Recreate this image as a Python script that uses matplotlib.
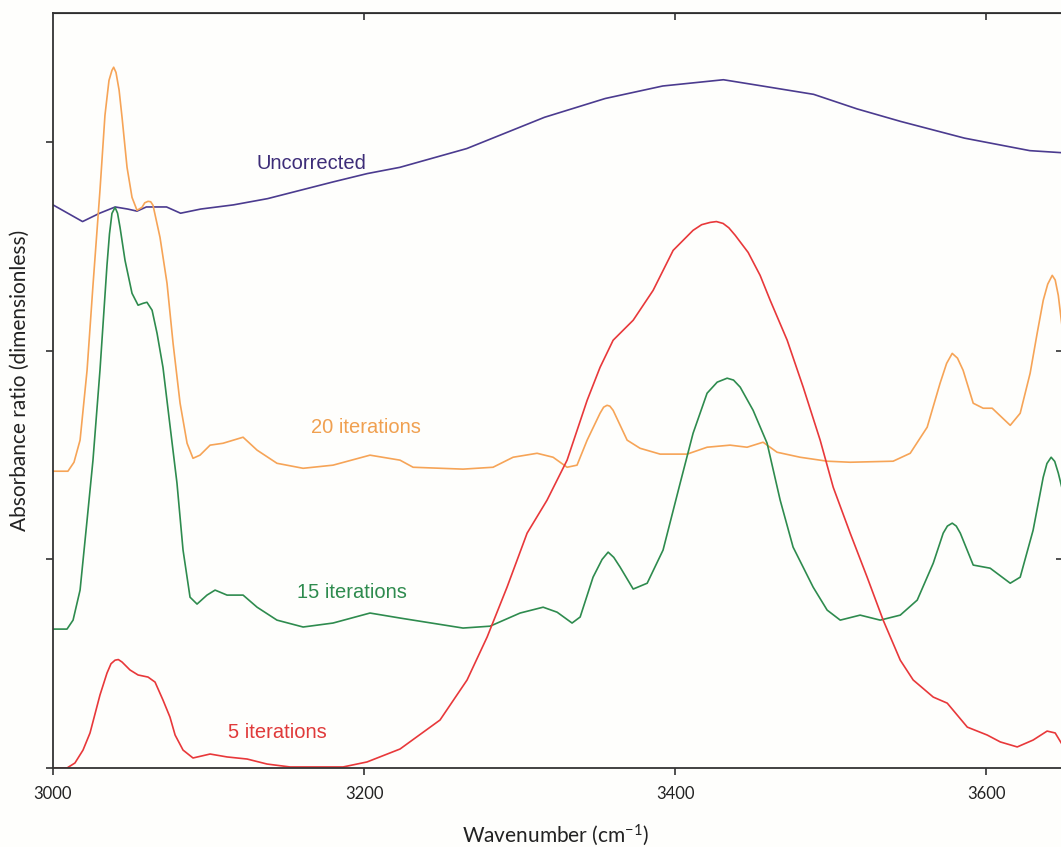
import numpy as np
import matplotlib
matplotlib.use("Agg")
import matplotlib.pyplot as plt

# absorbance ratio spectra, wavenumber in cm^-1

wn_raw = [3000, 3019, 3030, 3040, 3048, 3054, 3060, 3073, 3082, 3095, 3116, 3138,
          3159, 3180, 3202, 3223, 3266, 3316, 3355, 3392, 3431, 3456, 3489, 3517,
          3545, 3586, 3628, 3649]
abs_raw = [2.70, 2.62, 2.66, 2.69, 2.68, 2.67, 2.69, 2.69, 2.66, 2.68, 2.70, 2.73,
           2.77, 2.81, 2.85, 2.88, 2.97, 3.12, 3.21, 3.27, 3.30, 3.27, 3.23, 3.16,
           3.10, 3.02, 2.96, 2.95]

wn_20 = [3000, 3009.6, 3013.5, 3017.4, 3021.9, 3025.7, 3030.2, 3033.4, 3034.8, 3036,
         3037.9, 3039, 3040.5, 3042.5, 3044.4, 3047.6, 3050.8, 3054, 3057.2, 3059,
         3061.1, 3062.8, 3064.3, 3068.8, 3073.3, 3077.2, 3081.7, 3086.2, 3090, 3094.5,
         3101, 3109.3, 3122.2, 3131.2, 3144, 3160.8, 3180, 3203.8, 3223.1, 3231.5,
         3263.6, 3282.9, 3295.8, 3311.2, 3321.5, 3330.5, 3336.9, 3343.4, 3351.7, 3354,
         3356.2, 3358, 3360.1, 3369.1, 3377.4, 3390.3, 3407.7, 3420.5, 3435.3, 3446.2,
         3456.5, 3465.5, 3480.3, 3497.7, 3512.5, 3540.1, 3551.1, 3562, 3570.3, 3574.5,
         3578.1, 3581.5, 3585.1, 3591.6, 3598, 3603.8, 3615.4, 3621.8, 3628.2, 3632.7,
         3636.6, 3639.5, 3642.4, 3644.3, 3646.3, 3649]
abs_20 = [1.423, 1.423, 1.466, 1.572, 1.907, 2.314, 2.770, 3.129, 3.22, 3.297,
          3.345, 3.36, 3.335, 3.25, 3.119, 2.880, 2.736, 2.674, 2.688, 2.71,
          2.717, 2.715, 2.698, 2.544, 2.324, 2.036, 1.749, 1.557, 1.485, 1.500,
          1.548, 1.557, 1.586, 1.524, 1.461, 1.437, 1.452, 1.500, 1.476, 1.442,
          1.433, 1.442, 1.490, 1.509, 1.490, 1.442, 1.452, 1.572, 1.701, 1.73,
          1.739, 1.735, 1.715, 1.572, 1.533, 1.505, 1.505, 1.538, 1.548, 1.538,
          1.562, 1.514, 1.490, 1.471, 1.466, 1.471, 1.509, 1.634, 1.845, 1.94,
          1.988, 1.965, 1.907, 1.749, 1.725, 1.725, 1.643, 1.701, 1.893, 2.084,
          2.242, 2.32, 2.362, 2.34, 2.266, 2.099]

wn_15 = [3000, 3009, 3012.9, 3017.4, 3021.9, 3025.7, 3030.2, 3034.7, 3036.3, 3037.9,
         3039.9, 3041.5, 3043.1, 3046.3, 3050.8, 3054.7, 3057.9, 3060.4, 3063.7, 3066.9,
         3070.7, 3075.2, 3079.7, 3083.6, 3088.1, 3092.6, 3099, 3104.2, 3111.9, 3122.2,
         3131.2, 3144, 3160.8, 3180, 3203.8, 3223.1, 3231.5, 3263.6, 3281, 3300.3,
         3315.1, 3324.1, 3333.7, 3338.9, 3347.2, 3353, 3356.9, 3360.5, 3364.6, 3373,
         3382, 3392.2, 3403.2, 3411.5, 3420.5, 3427, 3433.4, 3437.5, 3441.8, 3450.1,
         3459.1, 3467.5, 3475.8, 3488.7, 3497.7, 3506.1, 3518.9, 3531.8, 3544.7, 3555.6,
         3565.9, 3572.3, 3575, 3578.1, 3580.7, 3583.3, 3591.6, 3602.5, 3615.4, 3621.8,
         3630.1, 3636.6, 3639, 3641.7, 3644, 3646.3, 3649]
abs_15 = [0.666, 0.666, 0.709, 0.853, 1.188, 1.476, 1.907, 2.410, 2.56, 2.659,
          2.688, 2.66, 2.592, 2.434, 2.276, 2.219, 2.228, 2.233, 2.195, 2.084,
          1.921, 1.643, 1.366, 1.045, 0.819, 0.786, 0.829, 0.853, 0.829, 0.829,
          0.771, 0.709, 0.676, 0.695, 0.743, 0.719, 0.709, 0.671, 0.680, 0.743,
          0.771, 0.747, 0.695, 0.724, 0.915, 1.00, 1.035, 1.01, 0.963, 0.858,
          0.886, 1.045, 1.366, 1.605, 1.797, 1.85, 1.869, 1.86, 1.826, 1.715,
          1.557, 1.284, 1.059, 0.867, 0.757, 0.709, 0.733, 0.709, 0.733, 0.805,
          0.982, 1.126, 1.16, 1.174, 1.16, 1.126, 0.973, 0.958, 0.886, 0.915,
          1.140, 1.394, 1.46, 1.490, 1.47, 1.414, 1.332]

wn_5 = [3000, 3009, 3014.1, 3019.3, 3023.8, 3030.2, 3034.7, 3037.3, 3039.9, 3042,
        3044.4, 3049.5, 3054.7, 3061.1, 3065.6, 3070.7, 3075.2, 3078.5, 3083.6, 3090,
        3101, 3111.9, 3124.8, 3137.6, 3152.4, 3186.5, 3201.9, 3223.1, 3248.8, 3266.2,
        3279.1, 3291.9, 3304.8, 3317.6, 3330.5, 3343.4, 3351.7, 3360.1, 3373, 3385.8,
        3398.7, 3411.5, 3417, 3422.5, 3426.5, 3430.8, 3434.5, 3438.6, 3446.9, 3454.6,
        3461.1, 3472, 3482.3, 3493.2, 3501.6, 3512.5, 3523.4, 3533.7, 3544.7, 3553,
        3565.9, 3574.9, 3587.8, 3600.6, 3609, 3619.9, 3630.1, 3639.1, 3644.3, 3649]
abs_5 = [0.0, 0.0, 0.024, 0.086, 0.168, 0.350, 0.455, 0.50, 0.517, 0.52,
         0.508, 0.470, 0.446, 0.436, 0.412, 0.326, 0.244, 0.158, 0.086, 0.048,
         0.067, 0.053, 0.043, 0.019, 0.005, 0.005, 0.029, 0.091, 0.230, 0.422,
         0.628, 0.867, 1.126, 1.284, 1.476, 1.763, 1.921, 2.051, 2.147, 2.290,
         2.482, 2.578, 2.605, 2.616, 2.62, 2.611, 2.59, 2.554, 2.472, 2.362,
         2.242, 2.051, 1.826, 1.572, 1.346, 1.126, 0.915, 0.709, 0.517, 0.422,
         0.340, 0.311, 0.196, 0.158, 0.125, 0.101, 0.134, 0.177, 0.168, 0.110]

series = [
    (wn_raw, abs_raw, "#4b3b8f", "Uncorrected", 3166, 2.90, "#3d2d78"),
    (wn_20, abs_20, "#f6a457", "20 iterations", 3201, 1.634, "#f0a050"),
    (wn_15, abs_15, "#2e8b4e", "15 iterations", 3192, 0.843, "#2e8b4e"),
    (wn_5, abs_5, "#e8383a", "5 iterations", 3144, 0.172, "#e03a3a"),
]

plt.rcParams["font.family"] = ["Lato", "DejaVu Sans"]
plt.rcParams["mathtext.fontset"] = "custom"
plt.rcParams["mathtext.rm"] = "Lato"
plt.rcParams["mathtext.it"] = "Lato:italic"

fig = plt.figure(figsize=(10.61, 8.47), dpi=100, facecolor="#fefefc")
W, H = 1061.0, 847.0
ax = fig.add_axes([53 / W, 79 / H, (1062.5 - 53) / W, (768 - 13) / H])
ax.set_facecolor("#fefefc")

for x, y, c, lab, tx, ty, tc in series:
    ax.plot(x, y, color=c, lw=1.2, solid_joinstyle="round")
    ax.text(tx, ty, lab, color=tc, fontsize=14.5, family="Liberation Sans",
            ha="center", va="center")

ax.set_xlim(3000, 3649)
ax.set_ylim(0, 3.62)
ax.set_xticks([3000, 3200, 3400, 3600])
ax.set_yticks([0, 1, 2, 3])
ax.set_yticklabels([])
for s in ax.spines.values():
    s.set_color("#333333")
    s.set_linewidth(1.3)
ax.tick_params(axis="x", direction="out", length=5, width=1.2, color="#333333",
               labelsize=12, labelcolor="#222222", pad=8)
ax.tick_params(axis="y", direction="out", length=5, width=1.2, color="#333333")

top = ax.secondary_xaxis("top")
top.set_xticks([3200, 3400, 3600])
top.tick_params(direction="in", length=5, width=1.2, color="#333333", labeltop=False)
right = ax.secondary_yaxis("right")
right.set_yticks([1, 2])
right.tick_params(direction="in", length=5, width=1.2, color="#333333", labelright=False)

fig.text(555 / W, 1 - 835 / H, "Wavenumber (cm$^{-1}$)", fontsize=15,
         color="#222222", ha="center", va="center")
fig.text(20 / W, 1 - 380 / H, "Absorbance ratio (dimensionless)", fontsize=15,
         color="#222222", ha="center", va="center", rotation=90)

fig.savefig("out.png", dpi=100, facecolor=fig.get_facecolor())
